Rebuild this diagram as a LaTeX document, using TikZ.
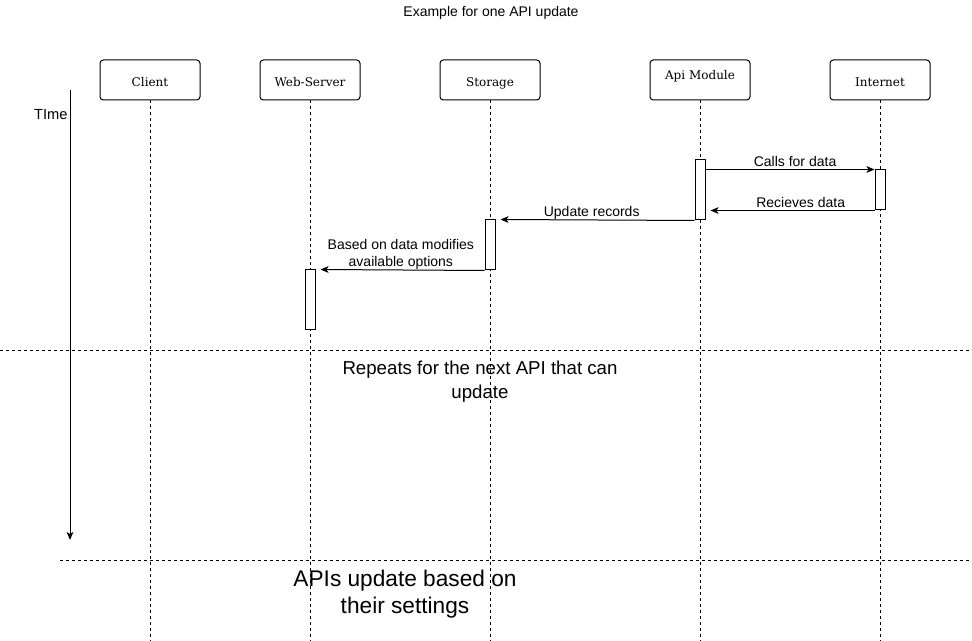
\documentclass[tikz,border=0pt]{standalone}
\usepackage{fontspec}
\setmainfont{Liberation Sans}
\newfontfamily\actorfont{DejaVu Serif}
\usetikzlibrary{arrows.meta}

\begin{document}
\begin{tikzpicture}[x=0.75pt, y=-0.75pt,
    actor/.style={draw, rounded corners=2.5pt, minimum width=75pt, minimum height=30pt,
        inner sep=0pt, text height=10.4pt, text depth=0pt, font=\actorfont\fontsize{9}{11}\selectfont},
    bar/.style={draw, fill=white, minimum width=7.5pt, inner sep=0pt},
    lifeline/.style={dash pattern=on 2.25pt off 2.25pt, line width=0.6pt},
    msg/.style={-{Stealth[length=6pt, width=5pt, inset=1.5pt]}, line width=0.75pt},
    msglabel/.style={font=\fontsize{10.5}{12.75}\selectfont, inner sep=0pt, anchor=south, text depth=2.2pt},
    line width=0.75pt]
    \useasboundingbox (0,0) rectangle (972,641);

    \node[font=\fontsize{10.5}{12}\selectfont] (title) at (491,13) {Example for one API update};

    \node[actor] (client) at (150,80) {Client};
    \node[actor] (webserver) at (310,80) {Web-Server};
    \node[actor] (storage) at (490,80) {Storage};
    \node[actor, text height=6pt, text depth=6.9pt] (apimodule) at (700,80) {Api Module};
    \node[actor] (internet) at (880,80) {Internet};

    \coordinate (bottom) at (0,641);
    \foreach \a in {client, webserver, storage, apimodule, internet}
        \draw[lifeline] (\a.south) -- (\a.south |- bottom);

    \coordinate (timestart) at (70,90);
    \coordinate (timeend) at (70,540);
    \draw[msg] (timestart) -- (timeend);
    \node[anchor=east, inner sep=0pt, font=\fontsize{11}{13}\selectfont] (time) at (68,115) {TIme};

    \node[bar, minimum height=45pt] (apiact) at (700,190) {};
    \node[bar, minimum height=30pt] (inetact) at (880,190) {};
    \node[bar, minimum height=37.5pt] (storact) at (490,245) {};
    \node[bar, minimum height=45pt] (webact) at (310,300) {};

    \draw[msg] (apiact.east |- inetact.north west) -- (inetact.north west)
        node[msglabel, pos=0.53] {Calls for data};
    \draw[msg] (inetact.south west) -- ([xshift=3.75pt]apiact.east |- inetact.south west)
        node[msglabel, pos=0.45] {Recieves data};
    \draw[msg] (apiact.south west) -- ([xshift=3.75pt]storact.north east)
        node[msglabel, pos=0.53] {Update records};
    \draw[msg] (storact.south west) -- ([xshift=3.75pt]webact.north east)
        node[msglabel, align=center, pos=0.51] {Based on data modifies\\available options};

    \draw[lifeline] (0,350) -- (970,350);
    \draw[lifeline] (60,560) -- (970,560);

    \node[align=center, font=\fontsize{14}{18}\selectfont] (repeats) at (480,382)
        {Repeats for the next API that can\\update};
    \node[align=center, font=\fontsize{17}{20.25}\selectfont] (settings) at (405,594)
        {APIs update based on\\their settings};
\end{tikzpicture}
\end{document}
